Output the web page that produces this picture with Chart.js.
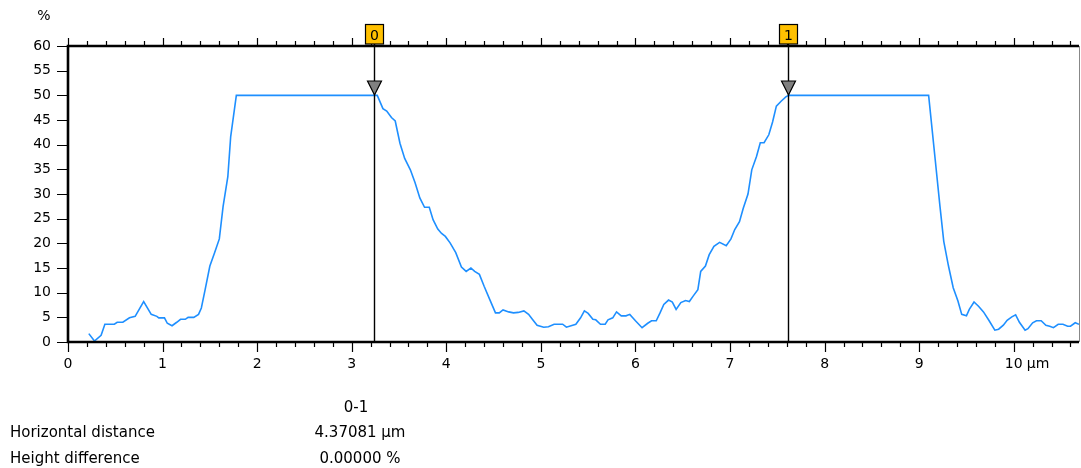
<!DOCTYPE html>
<html>
<head>
<meta charset="utf-8">
<script src="https://cdn.jsdelivr.net/npm/chart.js@4/dist/chart.umd.min.js"></script>
<style>
  html, body { margin: 0; padding: 0; background: #fff; }
  #wrap { width: 1081px; height: 468px; position: relative; }
</style>
</head>
<body>
<div id="wrap"><canvas id="profile"></canvas></div>
<script>
// profile data (x in µm, y in %)
const xs = [0.22,0.28,0.35,0.39,0.49,0.52,0.58,0.65,0.71,0.80,0.88,0.94,0.96,1.02,1.05,1.10,1.15,1.19,1.24,1.27,
  1.33,1.38,1.41,1.45,1.50,1.55,1.60,1.64,1.69,1.72,1.78,
  3.27,3.33,3.37,3.42,3.46,3.51,3.56,3.62,3.67,3.72,3.77,3.82,3.86,3.91,3.95,3.99,4.04,4.10,4.16,4.21,
  4.26,4.30,4.35,4.40,4.46,4.52,4.56,4.60,4.66,4.71,4.76,4.82,4.87,4.91,4.96,5.03,5.08,5.14,5.23,5.27,
  5.37,5.42,5.46,5.50,5.55,5.58,5.63,5.68,5.71,5.76,5.80,5.85,5.90,5.94,6.00,6.07,6.13,6.17,6.22,6.26,
  6.30,6.35,6.39,6.43,6.48,6.53,6.57,6.61,6.66,6.69,6.74,6.78,6.83,6.89,6.96,7.01,7.05,7.10,7.14,7.19,
  7.23,7.28,7.32,7.36,7.41,7.45,7.49,7.54,7.59,7.62,
  9.10,9.17,9.22,9.26,9.31,9.36,9.41,9.45,9.50,9.53,9.58,9.63,9.68,9.74,9.80,9.84,9.89,9.93,9.98,10.02,
  10.06,10.12,10.15,10.20,10.24,10.29,10.34,10.38,10.42,10.47,10.52,10.57,10.60,10.65,10.69];
const ys = [1.7,0.2,1.35,3.6,3.6,4.0,4.0,4.9,5.2,8.2,5.6,5.2,4.9,4.9,3.8,3.3,4.0,4.6,4.6,5.0,
  5.0,5.6,6.9,10.6,15.4,18.1,20.9,27.5,33.5,41.6,50,
  50,47.3,46.8,45.5,44.8,40.3,37.2,34.9,32.3,29.2,27.3,27.3,24.8,22.9,22.0,21.4,20.1,18.1,15.2,14.3,
  15.0,14.3,13.7,11.3,8.6,5.9,5.9,6.5,6.1,5.9,6.0,6.3,5.6,4.6,3.4,3.0,3.1,3.6,3.6,3.0,
  3.6,4.9,6.3,5.8,4.6,4.5,3.6,3.6,4.5,4.9,6.1,5.3,5.3,5.6,4.3,2.9,3.8,4.3,4.3,5.9,
  7.6,8.5,8.1,6.6,8.0,8.4,8.2,9.3,10.6,14.3,15.4,17.7,19.4,20.2,19.5,20.9,22.8,24.4,27.1,30.0,
  34.9,37.6,40.4,40.4,42.0,44.6,47.8,48.8,49.7,50,
  50,36.9,27.5,20.4,15.4,11.0,8.3,5.6,5.3,6.6,8.1,7.2,6.1,4.3,2.4,2.6,3.4,4.4,5.1,5.5,
  4.0,2.4,2.7,3.9,4.3,4.3,3.4,3.2,2.9,3.6,3.6,3.2,3.2,3.9,3.6];

const xTicks = [0,1,2,3,4,5,6,7,8,9,10];
const yTicks = [0,5,10,15,20,25,30,35,40,45,50,55,60];
const xMax = 10.69;
const cursorLabels = ['0','1'];
const cursorX = [3.24, 7.61];
const pairLabel = '0-1';
const resultRows = [['Horizontal distance','4.37081 µm'],['Height difference','0.00000 %']];

const FONT = '"DejaVu Sans", sans-serif';

const decor = {
  id: 'decor',
  afterDatasetsDraw(chart) {
    const {ctx, chartArea: a, scales: {x, y}} = chart;
    ctx.save();

    // minor / major ticks top and bottom, plus the left ticks
    ctx.strokeStyle = '#000';
    ctx.lineWidth = 1.2;
    ctx.beginPath();
    const n = Math.floor(xMax / 0.2 + 1e-6);
    for (let i = 0; i <= n; i++) {
      const px = Math.round(x.getPixelForValue(i * 0.2)) + 0.5;
      const major = i % 5 === 0;
      ctx.moveTo(px, a.bottom); ctx.lineTo(px, a.bottom + (major ? 10 : 5));
      ctx.moveTo(px, a.top); ctx.lineTo(px, a.top - (major ? 8 : 5));
    }
    yTicks.forEach(v => {
      const py = Math.round(y.getPixelForValue(v)) + 0.5;
      ctx.moveTo(a.left - 11, py); ctx.lineTo(a.left, py);
    });
    ctx.stroke();

    // frame
    ctx.lineWidth = 2.6;
    ctx.beginPath();
    ctx.moveTo(a.right, a.top); ctx.lineTo(a.left, a.top);
    ctx.lineTo(a.left, a.bottom); ctx.lineTo(a.right, a.bottom);
    ctx.stroke();
    ctx.lineWidth = 1;
    ctx.strokeStyle = '#888';
    ctx.beginPath();
    ctx.moveTo(a.right + 0.5, a.top); ctx.lineTo(a.right + 0.5, a.bottom);
    ctx.stroke();

    // cursors
    cursorX.forEach((cv, i) => {
      const px = Math.round(x.getPixelForValue(cv)) + 0.5;
      ctx.strokeStyle = '#000';
      ctx.lineWidth = 1.4;
      ctx.beginPath();
      ctx.moveTo(px, 44); ctx.lineTo(px, a.bottom);
      ctx.stroke();
      ctx.beginPath();
      ctx.moveTo(px - 7, 81); ctx.lineTo(px + 7, 81); ctx.lineTo(px, 95); ctx.closePath();
      ctx.fillStyle = '#808080';
      ctx.fill();
      ctx.lineWidth = 1.2;
      ctx.stroke();
      ctx.fillStyle = '#FFC000';
      ctx.fillRect(px - 9, 24.5, 18, 19.5);
      ctx.strokeRect(px - 9, 24.5, 18, 19.5);
      ctx.fillStyle = '#000';
      ctx.font = '14px ' + FONT;
      ctx.textAlign = 'center';
      ctx.textBaseline = 'alphabetic';
      ctx.fillText(cursorLabels[i], px, 40);
    });

    // unit labels
    ctx.fillStyle = '#000';
    ctx.font = '14px ' + FONT;
    ctx.textAlign = 'center';
    ctx.fillText('%', 44, 20);
    ctx.textAlign = 'left';
    const p10 = x.getPixelForValue(10);
    ctx.fillText('µm', p10 + 13, 368);

    // measurement table
    ctx.font = '15px ' + FONT;
    ctx.textAlign = 'center';
    ctx.fillText(pairLabel, 356, 412);
    resultRows.forEach((r, i) => {
      const by = 437 + i * 26;
      ctx.textAlign = 'left';
      ctx.fillText(r[0], 10, by);
      ctx.textAlign = 'center';
      ctx.fillText(r[1], 360, by);
    });
    ctx.restore();
  }
};

new Chart(document.getElementById('profile'), {
  type: 'line',
  data: {
    datasets: [{
      data: xs.map((v, i) => ({x: v, y: ys[i]})),
      borderColor: '#1E8FFF',
      borderWidth: 1.6,
      pointRadius: 0,
      tension: 0,
      fill: false
    }]
  },
  options: {
    responsive: true,
    maintainAspectRatio: false,
    animation: false,
    events: [],
    layout: { padding: { top: 46, right: 2, bottom: 96, left: 0 } },
    plugins: { legend: { display: false }, tooltip: { enabled: false } },
    scales: {
      x: {
        type: 'linear',
        min: 0,
        max: xMax,
        grid: { display: false, drawTicks: false },
        border: { display: false },
        afterBuildTicks: s => { s.ticks = xTicks.map(v => ({value: v})); },
        afterFit: s => { s.height = 30; },
        ticks: { padding: 14, maxRotation: 0, color: '#000', font: { family: FONT, size: 14 } }
      },
      y: {
        min: 0,
        max: 60,
        grid: { display: false, drawTicks: false },
        border: { display: false },
        afterBuildTicks: s => { s.ticks = yTicks.map(v => ({value: v})); },
        afterFit: s => { s.width = 68; },
        ticks: { padding: 17, color: '#000', font: { family: FONT, size: 14 } }
      }
    }
  },
  plugins: [decor]
});
</script>
</body>
</html>
